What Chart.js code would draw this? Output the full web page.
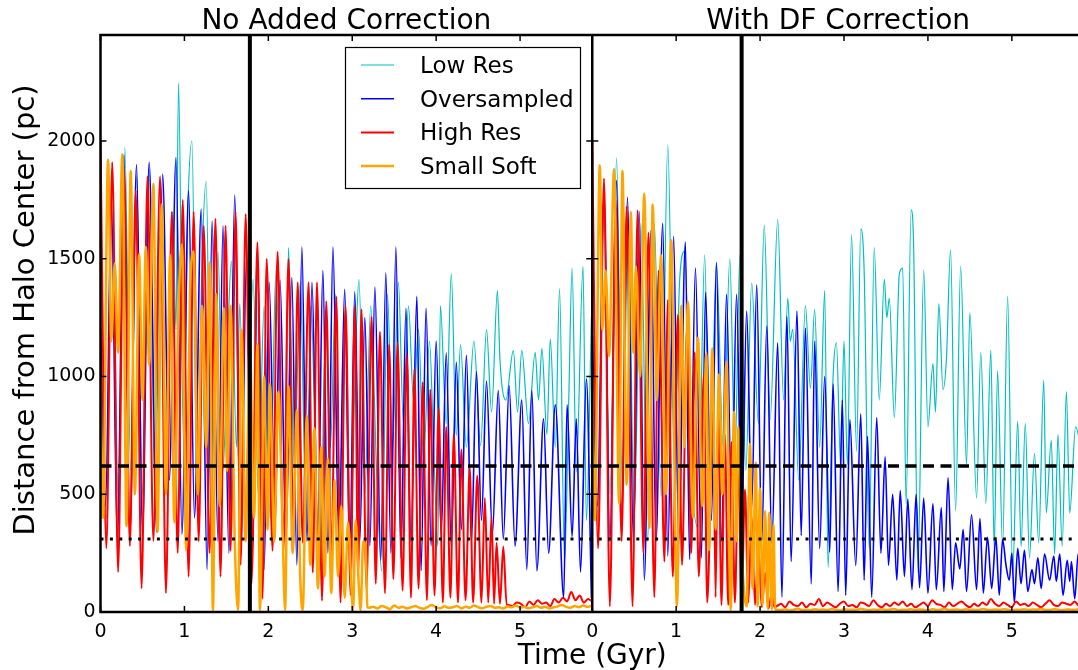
<!DOCTYPE html>
<html>
<head>
<meta charset="utf-8">
<script src="https://cdn.jsdelivr.net/npm/chart.js@4.4.0/dist/chart.umd.min.js"></script>
<style>
  html, body { margin: 0; padding: 0; background: #fff; overflow: hidden; }
  #wrap { position: absolute; left: 0; top: 0; width: 1090px; height: 670px; }
</style>
</head>
<body>
<div id="wrap"><canvas id="orbits" width="1090" height="670"></canvas></div>
<script>
// panel titles and legend names
const panelTitles = ['No Added Correction', 'With DF Correction'];
const seriesNames = ['Low Res', 'Oversampled', 'High Res', 'Small Soft'];
const timeTicks = [0, 1, 2, 3, 4, 5];          // Gyr, same in both panels
const distTicks = [0, 500, 1000, 1500, 2000];  // pc
const PANEL = 5.86;      // Gyr shown by each panel
const DIST_MAX = 2450;
const switchTime = 1.78;                 // thick vertical line (Gyr)
const fullRadius = 620, halfRadius = 310; // dashed / dotted lines (pc)
const tailStep = 0.05;   // spacing of the settled, near-zero tails

// ---- No Added Correction : [time Gyr, distance pc] ----
const noCorrLowRes = [[0,1000],[0.07,400],[0.14,1800],[0.21,500],[0.29,1973],[0.36,600],[0.43,1850],[0.50,500],[0.58,1880],[0.65,450],[0.72,1800],[0.79,600],[0.86,1700],[0.90,1200],[0.93,2246],[0.99,700],[1.04,1700],[1.09,2000],[1.15,500],[1.21,1500],[1.26,1828],[1.32,450],[1.40,1530],[1.46,600],[1.51,1100],[1.56,1490],[1.62,700],[1.66,1310],[1.72,484],[1.82,1412],[1.88,500],[1.95,1300],[2.02,400],[2.09,1450],[2.16,500],[2.20,373],[2.24,1547],[2.31,600],[2.38,1400],[2.45,400],[2.51,1300],[2.57,500],[2.62,182],[2.68,1250],[2.74,700],[2.80,1350],[2.86,400],[2.92,1300],[2.98,300],[3.04,1100],[3.08,1412],[3.15,500],[3.22,1300],[3.29,600],[3.35,175],[3.42,1350],[3.48,700],[3.55,1400],[3.61,800],[3.67,1300],[3.73,900],[3.79,1200],[3.85,650],[3.92,1150],[3.97,700],[4.02,278],[4.05,1301],[4.12,800],[4.18,1436],[4.24,750],[4.29,1135],[4.36,700],[4.45,1150],[4.53,706],[4.60,1200],[4.66,850],[4.73,1365],[4.76,1071],[4.83,900],[4.92,1111],[4.97,849],[5.02,1111],[5.10,800],[5.18,1103],[5.22,900],[5.26,1119],[5.32,754],[5.36,1159],[5.42,700],[5.47,1373],[5.53,214],[5.58,900],[5.62,1460],[5.67,595],[5.75,1468],[5.79,389],[5.85,1254]];
const noCorrOversampled = [[0,1200],[0.06,450],[0.13,1750],[0.20,300],[0.28,1940],[0.35,330],[0.43,1900],[0.50,320],[0.58,1910],[0.67,340],[0.74,1860],[0.82,560],[0.90,1930],[0.97,330],[1.05,1790],[1.12,400],[1.20,1710],[1.27,180],[1.33,1660],[1.40,300],[1.46,1640],[1.53,250],[1.60,1770],[1.67,230],[1.74,1500],[1.81,250],[1.87,1450],[1.95,180],[2.01,1400],[2.08,360],[2.14,1410],[2.21,300],[2.28,1420],[2.34,200],[2.40,1550],[2.46,300],[2.52,1400],[2.59,330],[2.65,1450],[2.71,250],[2.77,1550],[2.84,300],[2.91,1370],[2.97,260],[3.03,1360],[3.09,300],[3.15,1250],[3.21,280],[3.27,1380],[3.34,220],[3.40,1440],[3.46,250],[3.52,1550],[3.58,230],[3.64,1290],[3.70,300],[3.77,1340],[3.82,175],[3.88,1290],[3.94,280],[4.00,1150],[4.06,330],[4.12,1100],[4.18,280],[4.24,1060],[4.30,350],[4.36,1090],[4.42,300],[4.48,1020],[4.54,390],[4.60,980],[4.67,330],[4.74,940],[4.80,310],[4.87,960],[4.94,280],[5.02,900],[5.08,180],[5.14,940],[5.20,175],[5.28,820],[5.34,250],[5.42,880],[5.52,60],[5.56,880],[5.62,320],[5.67,820],[5.72,170],[5.79,990],[5.85,60]];
const noCorrHighRes = [[0,2000],[0.07,270],[0.14,1910],[0.21,170],[0.28,1880],[0.35,280],[0.42,1790],[0.49,100],[0.56,1850],[0.63,300],[0.71,1850],[0.78,80],[0.85,1700],[0.92,250],[0.98,1750],[1.05,150],[1.11,1700],[1.17,300],[1.23,1640],[1.30,250],[1.37,1670],[1.43,150],[1.49,1640],[1.55,260],[1.61,1700],[1.67,200],[1.73,1690],[1.80,120],[1.87,1570],[1.93,56],[1.98,1500],[2.05,260],[2.11,1530],[2.18,260],[2.24,1500],[2.30,290],[2.35,1400],[2.41,294],[2.48,1400],[2.53,167],[2.58,1400],[2.64,48],[2.69,1320],[2.75,230],[2.81,1340],[2.86,40],[2.92,1300],[2.98,71],[3.03,1300],[3.07,150],[3.11,1285],[3.17,100],[3.23,1254],[3.28,120],[3.33,1190],[3.39,80],[3.44,1135],[3.49,140],[3.54,1143],[3.60,90],[3.65,1095],[3.70,60],[3.74,1032],[3.79,100],[3.84,976],[3.89,50],[3.93,944],[3.98,70],[4.03,865],[4.08,40],[4.12,786],[4.17,60],[4.21,754],[4.26,40],[4.30,690],[4.35,50],[4.40,611],[4.44,40],[4.49,579],[4.54,40],[4.58,484],[4.62,40],[4.66,405],[4.69,35],[4.72,294],[4.76,35],[4.80,278],[4.84,30]];
const noCorrHighResTail = [30,25,40,35,20,45,30,50,35,40,25,55,40,60,45,85,50,70,40,55,45]; // from 4.86 Gyr
const noCorrSmallSoft = [[0,1000],[0.03,400],[0.09,1920],[0.13,1150],[0.17,1480],[0.21,1100],[0.26,1944],[0.31,365],[0.36,1873],[0.41,500],[0.46,1520],[0.50,900],[0.54,1550],[0.58,1050],[0.63,1817],[0.68,340],[0.73,1730],[0.78,500],[0.83,1516],[0.88,380],[0.93,1300],[0.97,1560],[1.02,262],[1.07,1400],[1.11,1531],[1.16,500],[1.21,1300],[1.26,700],[1.30,1484],[1.34,8],[1.38,1350],[1.42,450],[1.47,1290],[1.51,600],[1.55,1300],[1.60,300],[1.64,8],[1.68,1198],[1.73,300],[1.78,1150],[1.83,400],[1.87,1135],[1.90,8],[1.95,1000],[1.99,350],[2.02,968],[2.07,300],[2.12,936],[2.17,350],[2.20,8],[2.24,960],[2.29,250],[2.34,857],[2.38,150],[2.41,8],[2.46,833],[2.50,200],[2.55,780],[2.59,100],[2.63,700],[2.67,150],[2.71,650],[2.75,80],[2.79,560],[2.83,150],[2.87,450],[2.91,60],[2.95,380],[3.01,8],[3.04,389],[3.08,100],[3.10,8],[3.13,300],[3.16,270],[3.18,20]];
const noCorrSmallSoftTail = [18,22,15,25,20,12,28,18,22,15,20,25,18,14,22,30,20,16,24,18,20,26,15,22,18,28,20,16,22,25,18,20,15,24,20,28,18,22,16,20,25,18,22,15,20,24,30,22,18,25,20,28,22,26]; // from 3.2 Gyr

// ---- With DF Correction : [time Gyr, distance pc] ----
const dfLowRes = [[0,1000],[0.07,400],[0.14,1800],[0.21,500],[0.29,1928],[0.36,500],[0.43,1700],[0.50,400],[0.58,1650],[0.66,300],[0.74,1650],[0.82,492],[0.90,1984],[0.98,600],[1.04,1400],[1.10,1531],[1.18,600],[1.26,357],[1.34,1516],[1.40,500],[1.48,1484],[1.56,700],[1.64,1500],[1.70,650],[1.76,1516],[1.83,600],[1.90,1397],[1.98,801],[2.05,1643],[2.12,817],[2.21,1666],[2.28,900],[2.33,1333],[2.36,1150],[2.39,1200],[2.46,560],[2.54,1301],[2.60,950],[2.65,1285],[2.71,700],[2.77,1365],[2.81,190],[2.87,1000],[2.91,1143],[2.96,619],[3.00,1150],[3.04,627],[3.09,1603],[3.15,682],[3.20,1627],[3.24,1450],[3.30,270],[3.36,1547],[3.42,900],[3.48,1412],[3.51,1250],[3.54,1333],[3.60,825],[3.66,1436],[3.70,1460],[3.74,460],[3.80,1706],[3.83,1550],[3.88,167],[3.95,1452],[4.00,786],[4.06,1055],[4.09,849],[4.13,1309],[4.18,944],[4.22,1071],[4.27,1539],[4.33,429],[4.39,1468],[4.46,627],[4.50,1270],[4.58,484],[4.63,1103],[4.69,460],[4.75,1111],[4.79,270],[4.83,1024],[4.89,278],[4.95,1341],[5.01,167],[5.07,809],[5.11,278],[5.16,801],[5.21,230],[5.27,674],[5.32,294],[5.38,984],[5.41,421],[5.47,730],[5.51,246],[5.55,754],[5.60,278],[5.65,936],[5.69,421],[5.76,786],[5.86,600]];
const dfOversampled = [[0,1200],[0.06,450],[0.14,1750],[0.21,300],[0.29,1833],[0.35,350],[0.42,1762],[0.49,300],[0.56,1700],[0.62,135],[0.70,1620],[0.76,300],[0.84,1650],[0.90,238],[0.97,1595],[1.03,294],[1.11,1571],[1.16,222],[1.23,1460],[1.30,230],[1.35,1357],[1.42,389],[1.48,1484],[1.54,300],[1.60,1349],[1.66,421],[1.72,1349],[1.78,350],[1.84,1278],[1.90,437],[1.96,1389],[2.02,294],[2.08,1214],[2.14,294],[2.21,1143],[2.26,63],[2.32,1254],[2.37,214],[2.44,1278],[2.49,325],[2.54,1206],[2.61,119],[2.65,1151],[2.71,270],[2.77,1000],[2.83,254],[2.87,968],[2.93,87],[2.98,900],[3.02,71],[3.07,817],[3.14,198],[3.20,841],[3.24,135],[3.28,746],[3.33,63],[3.39,825],[3.44,250],[3.49,659],[3.53,198],[3.58,500],[3.63,135],[3.67,516],[3.72,151],[3.76,480],[3.81,95],[3.86,500],[3.90,103],[3.95,484],[4.00,79],[4.06,460],[4.10,95],[4.16,444],[4.19,87],[4.24,571],[4.29,95],[4.33,294],[4.38,183],[4.42,350],[4.46,87],[4.52,413],[4.58,95],[4.62,397],[4.66,80],[4.71,317],[4.76,100],[4.81,317],[4.85,71],[4.89,309],[4.93,200],[4.97,135],[5.00,250],[5.03,40],[5.07,270],[5.11,120],[5.15,262],[5.19,87],[5.24,180],[5.27,120],[5.31,230],[5.35,100],[5.39,246],[5.45,135],[5.50,238],[5.53,130],[5.57,246],[5.61,71],[5.66,220],[5.69,130],[5.71,214],[5.75,56],[5.79,246],[5.84,100]];
const dfHighRes = [[0,2000],[0.07,270],[0.14,1841],[0.21,24],[0.28,1750],[0.35,300],[0.41,1722],[0.48,24],[0.54,1706],[0.61,250],[0.67,1611],[0.74,63],[0.79,1450],[0.86,214],[0.90,1325],[0.96,150],[1.02,1262],[1.07,200],[1.13,1214],[1.18,250],[1.22,1103],[1.27,151],[1.33,1008],[1.37,40],[1.44,897],[1.47,63],[1.50,881],[1.54,30],[1.58,754],[1.62,30],[1.66,722],[1.70,40],[1.74,620],[1.78,30],[1.82,520],[1.86,40],[1.90,405],[1.94,30],[1.98,278],[2.02,20],[2.06,167],[2.10,15],[2.14,80],[2.17,20]];
const dfHighResTail = [25,35,20,45,30,25,40,20,35,30,55,25,40,30,20,35,45,25,30,20,40,35,25,50,30,20,35,25,40,30,45,25,35,20,30,40,25,50,35,30,20,40,25,35,45,30,20,35,25,40,30,55,35,25,40,30,20,45,30,35,25,40,30,20,35,50,30,25,40,35,30,45,25,35]; // from 2.2 Gyr
const dfSmallSoft = [[0,1000],[0.03,389],[0.09,1897],[0.12,1198],[0.16,1450],[0.20,1087],[0.26,1881],[0.32,460],[0.36,1873],[0.41,540],[0.46,1698],[0.49,1100],[0.52,1468],[0.57,1000],[0.62,1777],[0.68,357],[0.72,1730],[0.77,900],[0.82,1516],[0.88,500],[0.94,1579],[1.01,24],[1.06,1300],[1.10,700],[1.14,1317],[1.20,400],[1.26,1166],[1.31,450],[1.36,1100],[1.39,262],[1.43,1119],[1.47,350],[1.51,1008],[1.55,500],[1.60,1063],[1.65,8],[1.69,850],[1.72,300],[1.74,786],[1.79,200],[1.84,24],[1.88,714],[1.91,100],[1.95,635],[1.97,24],[2.00,524],[2.03,30],[2.06,429],[2.09,15],[2.11,421],[2.14,10],[2.16,373],[2.18,10]];
const dfSmallSoftTail = [10,8,12,6,10,14,8,10,7,12,9,11,8,13,10,6,12,9,10,8,14,10,7,11,9,12,8,10,13,7,10,9,12,8,11,10,6,12,9,10,14,8,10,11,7,12,9,10,8,13,10,9,11,8,12,10,7,10,9,12,8,11,10,13,9,8,12,10,7,11,10,9,12,10]; // from 2.2 Gyr

const colors = ['#00bfbf', '#0000ff', '#ff0000', '#ffa500'];
const widths = [1.2, 1.6, 2, 2.5];
const FONT = '"DejaVu Sans", sans-serif';

// right-hand panel is drawn on the same x scale, shifted by one panel width
function pts(pairs, tail, tailStart, shift) {
  const out = pairs.map(p => ({ x: p[0], y: p[1] }));
  if (tail) tail.forEach((r, i) => out.push({ x: tailStart + i * tailStep, y: r }));
  return out.filter(p => p.x <= PANEL).map(p => ({ x: p.x + shift, y: p.y }));
}

function curve(k, data) {
  return {
    data: data, borderColor: colors[k], borderWidth: widths[k],
    pointRadius: 0, fill: false, cubicInterpolationMode: 'monotone'
  };
}
function guide(data, width, dash) {
  return { data: data, borderColor: '#000', borderWidth: width, borderDash: dash, pointRadius: 0, fill: false, tension: 0 };
}

// index 0 is drawn on top
const datasets = [
  guide([{ x: switchTime, y: 0 }, { x: switchTime, y: DIST_MAX }], 4, []),
  guide([{ x: PANEL + switchTime, y: 0 }, { x: PANEL + switchTime, y: DIST_MAX }], 4, []),
  guide([{ x: 0, y: fullRadius }, { x: 2 * PANEL, y: fullRadius }], 3.5, [11, 6.5]),
  guide([{ x: 0, y: halfRadius }, { x: 2 * PANEL, y: halfRadius }], 3, [3, 6.4]),
  curve(3, pts(noCorrSmallSoft, noCorrSmallSoftTail, 3.2, 0)),
  curve(3, pts(dfSmallSoft, dfSmallSoftTail, 2.2, PANEL)),
  curve(2, pts(noCorrHighRes, noCorrHighResTail, 4.86, 0)),
  curve(2, pts(dfHighRes, dfHighResTail, 2.2, PANEL)),
  curve(1, pts(noCorrOversampled, null, 0, 0)),
  curve(1, pts(dfOversampled, null, 0, PANEL)),
  curve(0, pts(noCorrLowRes, null, 0, 0)),
  curve(0, pts(dfLowRes, null, 0, PANEL))
];

const decor = {
  id: 'decor',
  afterDraw(chart) {
    const { ctx, chartArea: a, scales: { x, y } } = chart;
    const seg = (x1, y1, x2, y2) => { ctx.beginPath(); ctx.moveTo(x1, y1); ctx.lineTo(x2, y2); ctx.stroke(); };
    ctx.save();
    ctx.strokeStyle = '#000';
    ctx.fillStyle = '#000';

    // frame + panel divider
    ctx.lineWidth = 2.5;
    ctx.strokeRect(a.left, a.top, a.right - a.left, a.bottom - a.top);
    const mid = x.getPixelForValue(PANEL);
    seg(mid, a.top, mid, a.bottom);

    // inward ticks
    ctx.lineWidth = 1.5;
    x.ticks.forEach(t => {
      const px = x.getPixelForValue(t.value);
      seg(px, a.bottom, px, a.bottom - 6);
      seg(px, a.top, px, a.top + 6);
    });
    distTicks.forEach(v => {
      const py = y.getPixelForValue(v);
      seg(a.left, py, a.left + 6, py);
      seg(mid - 6, py, mid + 6, py);
    });

    // panel titles
    ctx.font = '28px ' + FONT;
    ctx.textAlign = 'center';
    ctx.textBaseline = 'alphabetic';
    ctx.fillText(panelTitles[0], x.getPixelForValue(PANEL / 2), 29);
    ctx.fillText(panelTitles[1], x.getPixelForValue(PANEL * 1.5), 29);

    // axis titles
    ctx.fillText('Time (Gyr)', (a.left + a.right) / 2, 664);
    ctx.save();
    ctx.font = '29px ' + FONT;
    ctx.translate(34, 310);
    ctx.rotate(-Math.PI / 2);
    ctx.fillText('Distance from Halo Center (pc)', 0, 0);
    ctx.restore();

    // legend
    ctx.fillStyle = '#fff';
    ctx.fillRect(345.5, 47.5, 235, 141);
    ctx.lineWidth = 1.2;
    ctx.strokeRect(345.5, 47.5, 235, 141);
    ctx.font = '23px ' + FONT;
    ctx.textAlign = 'left';
    seriesNames.forEach((name, k) => {
      const ly = 65 + k * 33.7;
      ctx.strokeStyle = colors[k];
      ctx.lineWidth = widths[k];
      seg(361, ly, 394, ly);
      ctx.fillStyle = '#000';
      ctx.fillText(name, 420, ly + 8);
    });
    ctx.restore();
  }
};

new Chart(document.getElementById('orbits'), {
  type: 'line',
  data: { datasets: datasets },
  options: {
    responsive: false,
    animation: false,
    events: [],
    layout: { padding: { top: 35, right: 6, left: 0, bottom: 0 } },
    plugins: { legend: { display: false }, tooltip: { enabled: false } },
    scales: {
      x: {
        type: 'linear', min: 0, max: 2 * PANEL,
        grid: { display: false, drawTicks: false },
        border: { display: false },
        afterBuildTicks: s => {
          s.ticks = timeTicks.map(v => ({ value: v })).concat(timeTicks.map(v => ({ value: v + PANEL })));
        },
        afterFit: s => { s.height = 58; },
        ticks: {
          autoSkip: false, maxRotation: 0, padding: 9, color: '#000',
          font: { family: FONT, size: 19 },
          callback: v => String(Math.round(v >= PANEL - 1e-6 ? v - PANEL : v))
        }
      },
      y: {
        type: 'linear', min: 0, max: DIST_MAX,
        grid: { display: false, drawTicks: false },
        border: { display: false },
        afterBuildTicks: s => { s.ticks = distTicks.map(v => ({ value: v })); },
        afterFit: s => { s.width = 100.5; },
        ticks: { padding: 5, color: '#000', font: { family: FONT, size: 19 }, callback: v => String(v) }
      }
    }
  },
  plugins: [decor]
});
</script>
</body>
</html>
